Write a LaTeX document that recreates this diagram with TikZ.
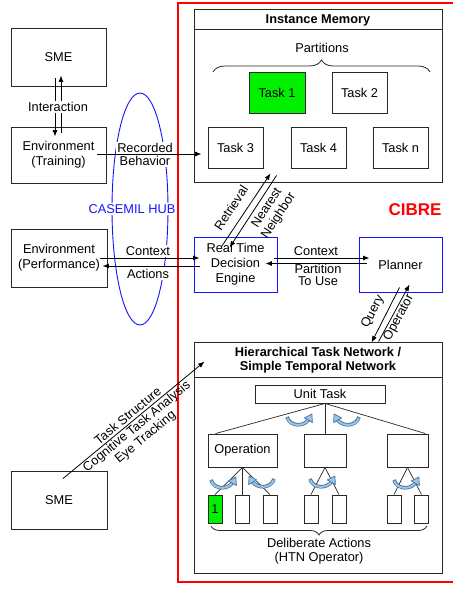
\documentclass[tikz,border=0pt]{standalone}
\usepackage{fontspec}
\setmainfont{Liberation Sans}
\usetikzlibrary{arrows.meta,decorations.pathreplacing,calc}
\definecolor{boxgray}{RGB}{40,40,40}
\definecolor{hubblue}{RGB}{20,20,255}
\definecolor{arrdark}{RGB}{65,113,156}
\definecolor{arrlight}{RGB}{157,195,230}
\definecolor{taskgreen}{RGB}{0,240,0}
\tikzset{
  bx/.style args={#1x#2}{draw=boxgray, line width=0.9pt, minimum width=#1pt, minimum height=#2pt, inner sep=0pt, align=center},
  arr/.style={draw=black, line width=0.8pt, -{Latex[length=6.5pt,width=5pt]}},
  tl/.style={draw=boxgray, line width=0.7pt},
  lbl/.style={inner sep=1pt, align=center},
  wlbl/.style={inner sep=1.5pt, align=center, fill=white},
  brc/.style={draw=boxgray, line width=0.8pt, decorate},
  curv/.pic={
    \draw[arrdark, line width=3.6pt] (0,0) .. controls (3,10) and (17.5,10) .. (22,2);
    \draw[arrlight, line width=2pt, shorten <=0.8pt] (0,0) .. controls (3,10) and (17.5,10) .. (22,2);
    \filldraw[fill=arrlight, draw=arrdark, line width=0.7pt, line join=round] (24.9,-3.0) -- (17.4,0.9) -- (25.4,5.6) -- cycle;
  }
}
\begin{document}
\begin{tikzpicture}[x=1pt,y=-1pt, font=\fontsize{12.8}{15}\selectfont]
\path[use as bounding box] (0,0) rectangle (453,590);

% CIBRE frame
\draw[red, line width=2pt] (460,3) -- (178,3) -- (178,582) -- (460,582);
\node[text=red, font=\fontsize{17}{20}\selectfont\bfseries] (cibre) at (415,210) {CIBRE};

% left boxes
\node[bx=95x58] (sme1) at (58.5,57) {SME};
\node[bx=95x56] (envT) at (58.5,155) {Environment\\(Training)};
\node[bx=96x58] (envP) at (59,258) {Environment\\(Performance)};
\node[bx=96x58] (sme2) at (59,500) {SME};

% Instance memory
\node[bx=248x173] (im) at (318,95.5) {};
\draw[tl, line width=0.9pt] ($(im.north west)+(0,21)$) -- ($(im.north east)+(0,21)$);
\node[lbl, font=\fontsize{12.8}{15}\selectfont\bfseries] (imt) at ($(im.north)+(0,11.5)$) {Instance Memory};
\node[lbl] (part) at (322,48) {Partitions};
\draw[brc, decoration={brace, amplitude=12pt}] (213,72) -- (430,72);
\node[bx=56x41, fill=taskgreen] (t1) at (277,92.5) {Task 1};
\node[bx=55x41] (t2) at (359.5,92.5) {Task 2};
\node[bx=55x41] (t3) at (235.5,147.5) {Task 3};
\node[bx=55x41] (t4) at (318.5,147.5) {Task 4};
\node[bx=55x41] (tn) at (400.5,147.5) {Task n};

% RTDE and planner
\node[bx=83x55, draw=hubblue] (rtde) at (235.5,264.5) {Real Time\\Decision\\Engine};
\node[bx=83x55, draw=hubblue] (plan) at (400.5,264.5) {Planner};

% HTN
\node[bx=248x231] (htn) at (318,457.5) {};
\draw[tl, line width=0.9pt] ($(htn.north west)+(0,36)$) -- ($(htn.north east)+(0,36)$);
\node[lbl, font=\fontsize{12.8}{14}\selectfont\bfseries] (htnt) at ($(htn.north)+(0,19)$) {Hierarchical Task Network /\\Simple Temporal Network};
\node[bx=130x18] (unit) at (320,394) {Unit Task};
\node[bx=69x33] (op) at (242.5,450.5) {Operation};
\node[bx=42x33] (mid) at (325,450.5) {};
\node[bx=41x33] (rb) at (407.5,450.5) {};
\node[bx=14x28, fill=taskgreen] (s1) at (215,509) {1};
\node[bx=14x28] (s2) at (242.5,509) {};
\node[bx=14x28] (s3) at (270,509) {};
\node[bx=14x28] (s4) at (311,509) {};
\node[bx=14x28] (s5) at (339,509) {};
\node[bx=14x28] (s6) at (394,509) {};
\node[bx=14x28] (s7) at (421.5,509) {};

\coordinate (apex) at (mid.north |- unit.south);
\draw[tl] (apex) -- (mid.north);
\draw[tl] (apex) -- ($(op.north west)+(8,0)$);
\draw[tl] (apex) -- ($(rb.north east)+(-3,0)$);
\draw[tl] (op.south) -- (s1.north);
\draw[tl] (op.south) -- (s2.north);
\draw[tl] (op.south) -- (s3.north);
\draw[tl] (mid.south) -- (s4.north);
\draw[tl] (mid.south) -- (s5.north);
\draw[tl] (rb.south) -- (s6.north);
\draw[tl] (rb.south) -- (s7.north);

\pic at (287,417) {curv};
\pic[xscale=-1] at (359,417) {curv};
\pic at (211,480) {curv};
\pic[xscale=-1] at (274,479) {curv};
\pic at (310,479) {curv};
\pic at (394,480) {curv};

\draw[brc, decoration={brace, amplitude=9pt}] (427,526) -- (211,526);
\node[lbl, font=\fontsize{12.8}{14}\selectfont] (delib) at (319,551) {Deliberate Actions\\(HTN Operator)};

% CASEMIL hub ellipse
\draw[hubblue, line width=0.9pt] (140,209) ellipse [x radius=28pt, y radius=116pt];
\node[wlbl, text=hubblue] (hub) at (132,209) {CASEMIL HUB};
\node[wlbl, font=\fontsize{12.8}{13}\selectfont] (recb) at (145,154.5) {Recorded\\Behavior};
\node[wlbl] (ctx1) at (148,251) {Context};
\node[wlbl] (act1) at (148,273.5) {Actions};

% Interaction
\coordinate (i1a) at ($(sme1.south)+(-3.5,-8)$);
\coordinate (i1b) at ($(envT.north)+(-3.5,10)$);
\coordinate (i2a) at ($(envT.north)+(2.5,6)$);
\coordinate (i2b) at ($(sme1.south)+(2.5,-11)$);
\draw[arr] (i1a) -- (i1b);
\draw[arr] (i2a) -- (i2b);
\node[wlbl] (inter) at (58,107) {Interaction};

% Recorded behavior
\coordinate (rbS) at ($(envT.east)+(-9,-1)$);
\draw[arr] (rbS) -- ($(rbS -| im.west)+(8,0)$);

% Context / Actions (performance)
\coordinate (cS) at ($(envP.east)+(-7,0)$);
\draw[arr] (cS) -- ($(cS -| rtde.west)+(6,0)$);
\coordinate (aS) at ($(rtde.west)+(6,1.5)$);
\draw[arr] (aS) -- ($(aS -| envP.east)+(-5,0)$);

% RTDE <-> Planner
\coordinate (c2S) at ($(rtde.east)+(-3,-6.5)$);
\draw[arr] (c2S) -- ($(c2S -| plan.west)+(11,0)$);
\coordinate (pS) at ($(plan.west)+(8,-1)$);
\draw[arr] (pS) -- ($(pS -| rtde.east)+(-12,0)$);
\node[lbl] (ctx2) at (316,251.5) {Context};
\node[lbl, font=\fontsize{12.8}{12.5}\selectfont] (ptu) at (318,275) {Partition\\To Use};

% Retrieval / Nearest neighbor
\coordinate (retS) at ($(rtde.north west)+(28,10)$);
\coordinate (retE) at ($(im.south west)+(77,-9)$);
\draw[arr] (retS) -- (retE);
\coordinate (nnS) at ($(im.south west)+(83,-7)$);
\coordinate (nnE) at ($(rtde.north west)+(36,11)$);
\draw[arr] (nnS) -- (nnE);
\node[lbl, rotate=57] (retl) at (231,208) {Retrieval};
\node[lbl, rotate=57, font=\fontsize{12.8}{14}\selectfont] (nnl) at (273,212) {Nearest\\Neighbor};

% Query / Operator
\coordinate (qS) at ($(plan.south west)+(41,-5)$);
\coordinate (qE) at ($(htn.north west)+(178,1)$);
\draw[arr] (qS) -- (qE);
\coordinate (oS) at ($(htn.north west)+(185,0)$);
\coordinate (oE) at ($(plan.south west)+(51,-8)$);
\draw[arr] (oS) -- (oE);
\node[lbl, rotate=62] (ql) at (373,312) {Query};
\node[lbl, rotate=62] (ol) at (399,318) {Operator};

% Task structure
\coordinate (tsS) at ($(sme2.north)+(4,8)$);
\coordinate (tsE) at ($(htn.north west)+(11,20)$);
\draw[arr] (tsS) -- (tsE);
\node[lbl, rotate=39.5, font=\fontsize{12.8}{13.5}\selectfont] (tsl) at (137,427) {Task Structure\\Cognitive Task Analysis\\Eye Tracking};
\end{tikzpicture}
\end{document}
